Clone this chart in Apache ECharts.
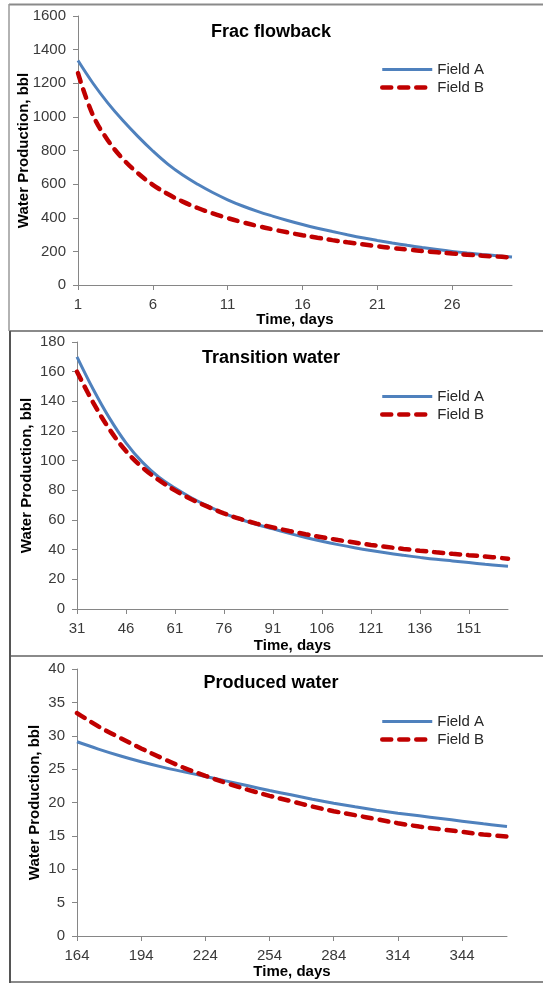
<!DOCTYPE html>
<html>
<head>
<meta charset="utf-8">
<script src="https://cdn.jsdelivr.net/npm/echarts@6/dist/echarts.min.js"></script>
<style>
  html, body { margin: 0; padding: 0; background: #fff; }
  #chart { width: 543px; height: 983px; }
</style>
</head>
<body>
<div id="chart"></div>
<script>
// Daily water production, bbl, for two fields in three production phases.
const seriesNames = ['Field A', 'Field B'];
const yAxisTitle = 'Water Production, bbl';
const xAxisTitle = 'Time, days';

// Phase 1: frac flowback (days 1-30)
const fracTitle = 'Frac flowback';
const fracDays = [1,2,3,4,5,6,7,8,9,10,11,12,13,14,15,16,17,18,19,20,21,22,23,24,25,26,27,28,29,30];
const fracFieldA = [1335,1200,1082,978,884,797,719,654,599,550,507,470,438,410,384,360,338,318,299,281,265,250,236,223,211,200,190.5,182,174,167];
const fracFieldB = [1260,1010,860,750,665,596,541,496,458,426,398,373,351,331,313,296,281,267,254,242,230,220,211,202.5,194.5,187,180.5,174.5,169,164];
const fracTicks = [1, 6, 11, 16, 21, 26];

// Phase 2: transition water (days 31-163)
const transTitle = 'Transition water';
const transDays = [31,36,41,46,51,56,61,66,71,76,81,86,91,96,101,106,111,116,121,126,131,136,141,146,151,156,163];
const transFieldA = [170,148,128.5,112,99,89,81.5,75,69.5,64.5,60.5,57,54,51,48.2,45.7,43.4,41.3,39.4,37.7,36.2,34.8,33.5,32.4,31.3,30.2,28.8];
const transFieldB = [160,139,121,106.5,95.5,87,80,74,69,64.5,60.7,57.6,55,52.6,50.4,48.4,46.5,44.8,43.2,41.8,40.5,39.3,38.2,37.2,36.3,35.4,33.9];
const transTicks = [31, 46, 61, 76, 91, 106, 121, 136, 151];

// Phase 3: produced water (days 164-365)
const prodTitle = 'Produced water';
const prodDays = [164,174,184,194,204,214,224,234,244,254,264,274,284,294,304,314,324,334,344,354,365];
const prodFieldA = [29.1,28.0,27.0,26.1,25.3,24.6,23.9,23.2,22.5,21.8,21.15,20.5,19.9,19.35,18.85,18.4,18.0,17.6,17.2,16.8,16.4];
const prodFieldB = [33.4,31.4,29.7,28.1,26.6,25.2,24.0,22.9,21.9,21.0,20.2,19.4,18.7,18.1,17.5,16.9,16.4,16.0,15.6,15.2,14.9];
const prodTicks = [164, 194, 224, 254, 284, 314, 344];

const FONT = '"Liberation Sans", Arial, sans-serif';
const AXIS_COLOR = '#868686';
const LABEL_COLOR = '#3a3a3a';
const BLUE = '#4F81BD';
const RED = '#C00000';
const BLUE_STYLE = { color: BLUE, width: 3 };
const RED_STYLE = { color: RED, width: 4.5, type: [9, 8], cap: 'round' };

const panels = [
  { title: fracTitle, days: fracDays, a: fracFieldA, b: fracFieldB, ticks: fracTicks,
    xMin: 1, xMax: 30, yMax: 1600, yStep: 200,
    grid: { left: 78, top: 16, width: 434, height: 269 }, titleTop: 18, legendTop: 62, yNameGap: 47, xNameGap: 27 },
  { title: transTitle, days: transDays, a: transFieldA, b: transFieldB, ticks: transTicks,
    xMin: 31, xMax: 163, yMax: 180, yStep: 20,
    grid: { left: 77, top: 342, width: 431, height: 267 }, titleTop: 344, legendTop: 389, yNameGap: 43, xNameGap: 29 },
  { title: prodTitle, days: prodDays, a: prodFieldA, b: prodFieldB, ticks: prodTicks,
    xMin: 164, xMax: 365, yMax: 40, yStep: 5,
    grid: { left: 77, top: 669, width: 430, height: 267 }, titleTop: 669, legendTop: 714, yNameGap: 35, xNameGap: 28 }
];

const zip = (xs, ys) => xs.map((x, i) => [x, ys[i]]);

const option = {
  animation: false,
  backgroundColor: '#ffffff',
  textStyle: { fontFamily: FONT },
  title: panels.map(p => ({
    text: p.title,
    left: 266,
    top: p.titleTop,
    textAlign: 'center',
    textStyle: { fontFamily: FONT, fontSize: 18, fontWeight: 'bold', color: '#000' }
  })),
  legend: panels.map(p => ({
    data: [
      { name: seriesNames[0], lineStyle: BLUE_STYLE },
      { name: seriesNames[1], lineStyle: RED_STYLE }
    ],
    orient: 'vertical',
    left: 380,
    top: p.legendTop,
    padding: 0,
    itemWidth: 50,
    itemHeight: 14,
    itemGap: 3,
    selectedMode: false,
    itemStyle: { opacity: 0 },
    textStyle: { fontFamily: FONT, fontSize: 15, color: '#262626' }
  })),
  grid: panels.map(p => p.grid),
  xAxis: panels.map((p, i) => ({
    type: 'value',
    gridIndex: i,
    min: p.xMin,
    max: p.xMax,
    name: xAxisTitle,
    nameLocation: 'middle',
    nameGap: p.xNameGap,
    nameMoveOverlap: false,
    nameTextStyle: { fontFamily: FONT, fontSize: 15, fontWeight: 'bold', color: '#000' },
    axisLine: { show: true, lineStyle: { color: AXIS_COLOR, width: 1 } },
    axisTick: { show: true, length: 5, customValues: p.ticks, lineStyle: { color: AXIS_COLOR } },
    axisLabel: { customValues: p.ticks, margin: 12, fontSize: 15, color: LABEL_COLOR, fontFamily: FONT },
    splitLine: { show: false }
  })),
  yAxis: panels.map((p, i) => ({
    type: 'value',
    gridIndex: i,
    min: 0,
    max: p.yMax,
    interval: p.yStep,
    name: yAxisTitle,
    nameLocation: 'middle',
    nameGap: p.yNameGap,
    nameMoveOverlap: false,
    nameTextStyle: { fontFamily: FONT, fontSize: 15, fontWeight: 'bold', color: '#000' },
    axisLine: { show: true, lineStyle: { color: AXIS_COLOR, width: 1 } },
    axisTick: { show: true, length: 5, lineStyle: { color: AXIS_COLOR } },
    axisLabel: { margin: 12, fontSize: 15, color: LABEL_COLOR, fontFamily: FONT, formatter: v => String(v) },
    splitLine: { show: false }
  })),
  series: panels.flatMap((p, i) => [
    {
      name: seriesNames[0], type: 'line', xAxisIndex: i, yAxisIndex: i,
      data: zip(p.days, p.a), smooth: 0.4, symbol: 'none', z: 3,
      lineStyle: BLUE_STYLE, itemStyle: { color: BLUE }
    },
    {
      name: seriesNames[1], type: 'line', xAxisIndex: i, yAxisIndex: i,
      data: zip(p.days, p.b), smooth: 0.4, symbol: 'none', z: 4,
      lineStyle: RED_STYLE, itemStyle: { color: RED }
    }
  ]),
  graphic: [
    // panel frames
    { type: 'line', shape: { x1: 9, y1: 4.5, x2: 543, y2: 4.5 }, style: { stroke: '#8a8a8a', lineWidth: 2 } },
    { type: 'line', shape: { x1: 9, y1: 331, x2: 543, y2: 331 }, style: { stroke: '#8a8a8a', lineWidth: 2 } },
    { type: 'line', shape: { x1: 9, y1: 656, x2: 543, y2: 656 }, style: { stroke: '#8a8a8a', lineWidth: 2 } },
    { type: 'line', shape: { x1: 9, y1: 982, x2: 543, y2: 982 }, style: { stroke: '#8a8a8a', lineWidth: 2 } },
    { type: 'line', shape: { x1: 9, y1: 4, x2: 9, y2: 331 }, style: { stroke: '#9a9a9a', lineWidth: 1.5 } },
    { type: 'line', shape: { x1: 10, y1: 331, x2: 10, y2: 983 }, style: { stroke: '#555555', lineWidth: 2 } }
  ]
};

const chart = echarts.init(document.getElementById('chart'), null, { renderer: 'canvas' });
chart.setOption(option);
</script>
</body>
</html>
